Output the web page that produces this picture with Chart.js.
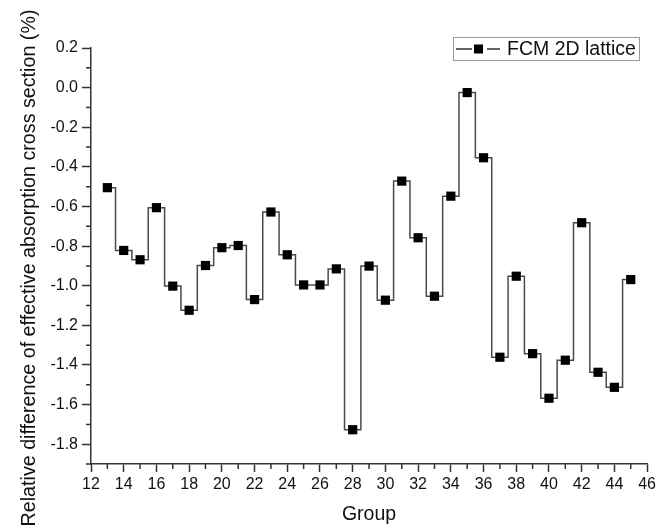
<!DOCTYPE html>
<html>
<head>
<meta charset="utf-8">
<script src="https://cdn.jsdelivr.net/npm/chart.js@4"></script>
<style>
  body { margin: 0; background: #fff; }
  canvas { display: block; }
</style>
</head>
<body>
<canvas id="diffChart" width="659" height="526"></canvas>
<script>
const groups = [13, 14, 15, 16, 17, 18, 19, 20, 21, 22, 23, 24, 25, 26, 27, 28, 29,
                30, 31, 32, 33, 34, 35, 36, 37, 38, 39, 40, 41, 42, 43, 44, 45];
const relDiff = [-0.505, -0.822, -0.869, -0.606, -1.002, -1.124, -0.898, -0.808, -0.797,
                 -1.07, -0.628, -0.844, -0.996, -0.996, -0.915, -1.727, -0.901,
                 -1.073, -0.472, -0.758, -1.053, -0.548, -0.025, -0.354, -1.361, -0.952,
                 -1.343, -1.568, -1.376, -0.682, -1.437, -1.513, -0.969];
const xTicks = [12, 14, 16, 18, 20, 22, 24, 26, 28, 30, 32, 34, 36, 38, 40, 42, 44, 46];
const xMinor = [13, 15, 17, 19, 21, 23, 25, 27, 29, 31, 33, 35, 37, 39, 41, 43, 45];
const yTicks = [-1.8, -1.6, -1.4, -1.2, -1.0, -0.8, -0.6, -0.4, -0.2, 0.0, 0.2];
const yMinor = [-1.9, -1.7, -1.5, -1.3, -1.1, -0.9, -0.7, -0.5, -0.3, -0.1, 0.1];
const yTitle = 'Relative difference of effective absorption cross section (%)';

const axisColor = '#333';
const fontFam = '"Liberation Sans", Arial, sans-serif';

// minor ticks, y title and boxed legend, drawn after the chart
const extras = {
    id: 'extras',
    afterDraw(chart) {
        const ctx = chart.ctx;
        const xs = chart.scales.x, ys = chart.scales.y;
        ctx.save();
        ctx.strokeStyle = axisColor;
        ctx.lineWidth = 1.5;
        ctx.beginPath();
        xMinor.forEach(v => {
            const px = xs.getPixelForValue(v);
            ctx.moveTo(px, xs.top);
            ctx.lineTo(px, xs.top + 5);
        });
        yMinor.forEach(v => {
            const py = ys.getPixelForValue(v);
            ctx.moveTo(ys.right, py);
            ctx.lineTo(ys.right - 5, py);
        });
        ctx.stroke();

        // y axis title
        ctx.save();
        ctx.translate(30, 268);
        ctx.rotate(-Math.PI / 2);
        ctx.fillStyle = '#111';
        ctx.font = '19.7px ' + fontFam;
        ctx.textAlign = 'center';
        ctx.textBaseline = 'middle';
        ctx.fillText(yTitle, 0, 0);
        ctx.restore();

        // legend
        const bx = 453, by = 37, bw = 186, bh = 23;
        ctx.strokeStyle = '#999';
        ctx.lineWidth = 1;
        ctx.strokeRect(bx + 0.5, by + 0.5, bw, bh);
        const cy = by + bh / 2 + 0.5;
        ctx.strokeStyle = '#333';
        ctx.lineWidth = 1.5;
        ctx.beginPath();
        ctx.moveTo(bx + 3, cy);
        ctx.lineTo(bx + 19, cy);
        ctx.moveTo(bx + 34, cy);
        ctx.lineTo(bx + 47, cy);
        ctx.stroke();
        ctx.fillStyle = '#000';
        ctx.fillRect(bx + 21, cy - 4.5, 9, 9);
        ctx.fillStyle = '#111';
        ctx.font = '19.5px ' + fontFam;
        ctx.textBaseline = 'middle';
        ctx.fillText(chart.data.datasets[0].label, bx + 54, cy + 1);
        ctx.restore();
    }
};

new Chart(document.getElementById('diffChart'), {
    type: 'line',
    data: {
        datasets: [{
            label: 'FCM 2D lattice',
            data: groups.map((g, i) => ({ x: g, y: relDiff[i] })),
            stepped: 'middle',
            borderColor: '#4a4a4a',
            borderWidth: 1.5,
            pointStyle: 'rect',
            pointRadius: 6.5,
            pointBackgroundColor: '#000',
            pointBorderColor: '#000',
            pointBorderWidth: 0,
            fill: false
        }]
    },
    options: {
        responsive: false,
        animation: false,
        layout: { padding: { left: 0, right: 9, top: 48, bottom: 0 } },
        plugins: {
            legend: { display: false },
            tooltip: { enabled: false }
        },
        scales: {
            x: {
                type: 'linear',
                min: 12,
                max: 46,
                afterBuildTicks: s => { s.ticks = xTicks.map(v => ({ value: v })); },
                afterFit: s => { s.height = 62; },
                border: { display: true, color: axisColor, width: 1.5 },
                grid: { drawOnChartArea: false, drawTicks: true, tickLength: 8, tickColor: axisColor, tickWidth: 1.5 },
                ticks: { color: '#111', font: { family: fontFam, size: 16 }, padding: 3, maxRotation: 0 },
                title: {
                    display: true,
                    text: 'Group',
                    color: '#111',
                    font: { family: fontFam, size: 19.5 },
                    padding: { top: 0, bottom: 0 }
                }
            },
            y: {
                min: -1.9,
                max: 0.2,
                afterBuildTicks: s => { s.ticks = yTicks.map(v => ({ value: v })); },
                afterFit: s => { s.width = 91; },
                border: { display: true, color: axisColor, width: 1.5 },
                grid: { drawOnChartArea: false, drawTicks: true, tickLength: 9, tickColor: axisColor, tickWidth: 1.5 },
                ticks: {
                    color: '#111',
                    font: { family: fontFam, size: 16 },
                    padding: 4,
                    callback: v => v.toFixed(1)
                }
            }
        }
    },
    plugins: [extras]
});
</script>
</body>
</html>
